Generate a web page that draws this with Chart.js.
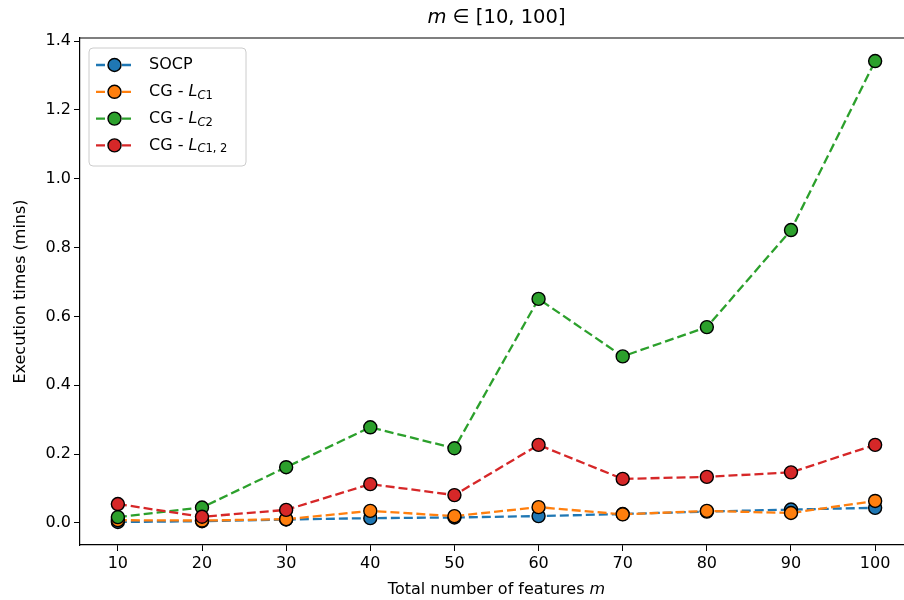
<!DOCTYPE html>
<html>
<head>
<meta charset="utf-8">
<script src="https://cdn.jsdelivr.net/npm/chart.js@4"></script>
<style>
  html, body { margin: 0; padding: 0; background: #fff; overflow: hidden; }
  #wrap { width: 904px; height: 600px; overflow: hidden; }
</style>
</head>
<body>
<div id="wrap"><canvas id="timesChart" width="930" height="600"></canvas></div>
<script>
// data
const features = [10, 20, 30, 40, 50, 60, 70, 80, 90, 100];
const socp  = [0.003, 0.005, 0.010, 0.014, 0.016, 0.020, 0.026, 0.033, 0.039, 0.044];
const cgL1  = [0.008, 0.007, 0.011, 0.035, 0.020, 0.046, 0.025, 0.035, 0.029, 0.064];
const cgL2  = [0.017, 0.045, 0.162, 0.278, 0.217, 0.651, 0.484, 0.569, 0.851, 1.342];
const cgL12 = [0.055, 0.018, 0.038, 0.113, 0.081, 0.227, 0.128, 0.134, 0.147, 0.227];
const xTicks = [10, 20, 30, 40, 50, 60, 70, 80, 90, 100];
const yTicks = [0.0, 0.2, 0.4, 0.6, 0.8, 1.0, 1.2, 1.4];

const FONT = "'DejaVu Sans', sans-serif";
const colors = ['#1f77b4', '#ff7f0e', '#2ca02c', '#d62728'];
// legend labels: [plain part, italic L, subscript]
const legendLabels = [
  ['SOCP', null, null],
  ['CG - ', 'L', ['C', '1']],
  ['CG - ', 'L', ['C', '2']],
  ['CG - ', 'L', ['C', '1, 2']]
];
const seriesList = [socp, cgL1, cgL2, cgL12];

function makeSet(values, i) {
  return {
    label: 'series' + i,
    data: values.map((v, k) => ({ x: features[k], y: v })),
    borderColor: colors[i],
    backgroundColor: colors[i],
    borderWidth: 2.3,
    borderDash: [9, 4],
    pointRadius: 6.5,
    pointBorderWidth: 1.4,
    pointBorderColor: '#000',
    pointBackgroundColor: colors[i],
    tension: 0,
    order: 4 - i
  };
}

// draws an "L_{..}" style label at x,y (baseline middle)
function drawMathLabel(ctx, x, y, parts) {
  ctx.textBaseline = 'middle';
  ctx.textAlign = 'left';
  ctx.fillStyle = '#000';
  ctx.font = '16px ' + FONT;
  ctx.fillText(parts[0], x, y);
  x += ctx.measureText(parts[0]).width;
  if (!parts[1]) return;
  ctx.font = 'italic 16px ' + FONT;
  ctx.fillText(parts[1], x, y);
  x += ctx.measureText(parts[1]).width;
  ctx.font = 'italic 11.5px ' + FONT;
  ctx.fillText(parts[2][0], x, y + 4);
  x += ctx.measureText(parts[2][0]).width;
  ctx.font = '11.5px ' + FONT;
  ctx.fillText(parts[2][1], x, y + 4);
}

const decorPlugin = {
  id: 'decor',
  afterDraw(chart) {
    const ctx = chart.ctx;
    const area = chart.chartArea;
    const cx = (area.left + area.right) / 2;
    ctx.save();

    // top and right spines
    ctx.strokeStyle = '#000';
    ctx.lineWidth = 1.2;
    ctx.beginPath();
    ctx.moveTo(area.left, area.top);
    ctx.lineTo(area.right, area.top);
    ctx.lineTo(area.right, area.bottom);
    ctx.stroke();

    // title: m ∈ [10, 100]
    ctx.textBaseline = 'middle';
    ctx.fillStyle = '#000';
    ctx.font = 'italic 19.5px ' + FONT;
    const tM = 'm';
    const tRest = ' \u2208 [10, 100]';
    const wM = ctx.measureText(tM).width;
    ctx.font = '19.5px ' + FONT;
    const wRest = ctx.measureText(tRest).width;
    let tx = cx - (wM + wRest) / 2;
    ctx.textAlign = 'left';
    ctx.font = 'italic 19.5px ' + FONT;
    ctx.fillText(tM, tx, 18);
    ctx.font = '19.5px ' + FONT;
    ctx.fillText(tRest, tx + wM, 18);

    // x axis title
    ctx.font = '16px ' + FONT;
    const xa = 'Total number of features ';
    const wa = ctx.measureText(xa).width;
    ctx.font = 'italic 16px ' + FONT;
    const wb = ctx.measureText('m').width;
    tx = cx - (wa + wb) / 2;
    ctx.font = '16px ' + FONT;
    ctx.fillText(xa, tx, 590);
    ctx.font = 'italic 16px ' + FONT;
    ctx.fillText('m', tx + wa, 590);

    // legend box
    const bx = area.left + 9, by = area.top + 10, bw = 157, bh = 118;
    ctx.beginPath();
    ctx.roundRect(bx, by, bw, bh, 4);
    ctx.fillStyle = 'rgba(255,255,255,0.8)';
    ctx.fill();
    ctx.strokeStyle = '#cccccc';
    ctx.lineWidth = 1;
    ctx.stroke();

    legendLabels.forEach((lab, i) => {
      const y = by + 17 + i * 26.8;
      ctx.beginPath();
      ctx.setLineDash([9, 4]);
      ctx.strokeStyle = colors[i];
      ctx.lineWidth = 2.3;
      ctx.moveTo(bx + 7, y);
      ctx.lineTo(bx + 44, y);
      ctx.stroke();
      ctx.setLineDash([]);
      ctx.beginPath();
      ctx.arc(bx + 25.5, y, 6.5, 0, Math.PI * 2);
      ctx.fillStyle = colors[i];
      ctx.fill();
      ctx.lineWidth = 1.4;
      ctx.strokeStyle = '#000';
      ctx.stroke();
      drawMathLabel(ctx, bx + 60, y, lab);
    });
    ctx.restore();
  }
};

new Chart(document.getElementById('timesChart'), {
  type: 'line',
  data: { datasets: seriesList.map(makeSet) },
  options: {
    responsive: false,
    animation: false,
    events: [],
    layout: { padding: { top: 38, right: 17, bottom: 0, left: 0 } },
    plugins: {
      legend: { display: false },
      tooltip: { enabled: false }
    },
    scales: {
      x: {
        type: 'linear',
        min: 5.5,
        max: 104.5,
        afterBuildTicks: s => { s.ticks = xTicks.map(v => ({ value: v })); },
        afterFit: s => { s.height = 55; },
        grid: { display: true, drawOnChartArea: false, tickLength: 6, tickColor: '#000' },
        border: { display: true, color: '#000', width: 1.2 },
        ticks: {
          color: '#000', padding: 3, maxRotation: 0,
          font: { family: FONT, size: 16 },
          callback: v => String(v)
        }
      },
      y: {
        min: -0.064,
        max: 1.409,
        afterBuildTicks: s => { s.ticks = yTicks.map(v => ({ value: v })); },
        afterFit: s => { s.width = 80; },
        grid: { display: true, drawOnChartArea: false, tickLength: 6, tickColor: '#000' },
        border: { display: true, color: '#000', width: 1.2 },
        ticks: {
          color: '#000', padding: 3,
          font: { family: FONT, size: 16 },
          callback: v => Number(v).toFixed(1)
        },
        title: {
          display: true,
          text: 'Execution times (mins)',
          color: '#000',
          font: { family: FONT, size: 16 },
          padding: { top: 11, bottom: 0 }
        }
      }
    }
  },
  plugins: [decorPlugin]
});
</script>
</body>
</html>
